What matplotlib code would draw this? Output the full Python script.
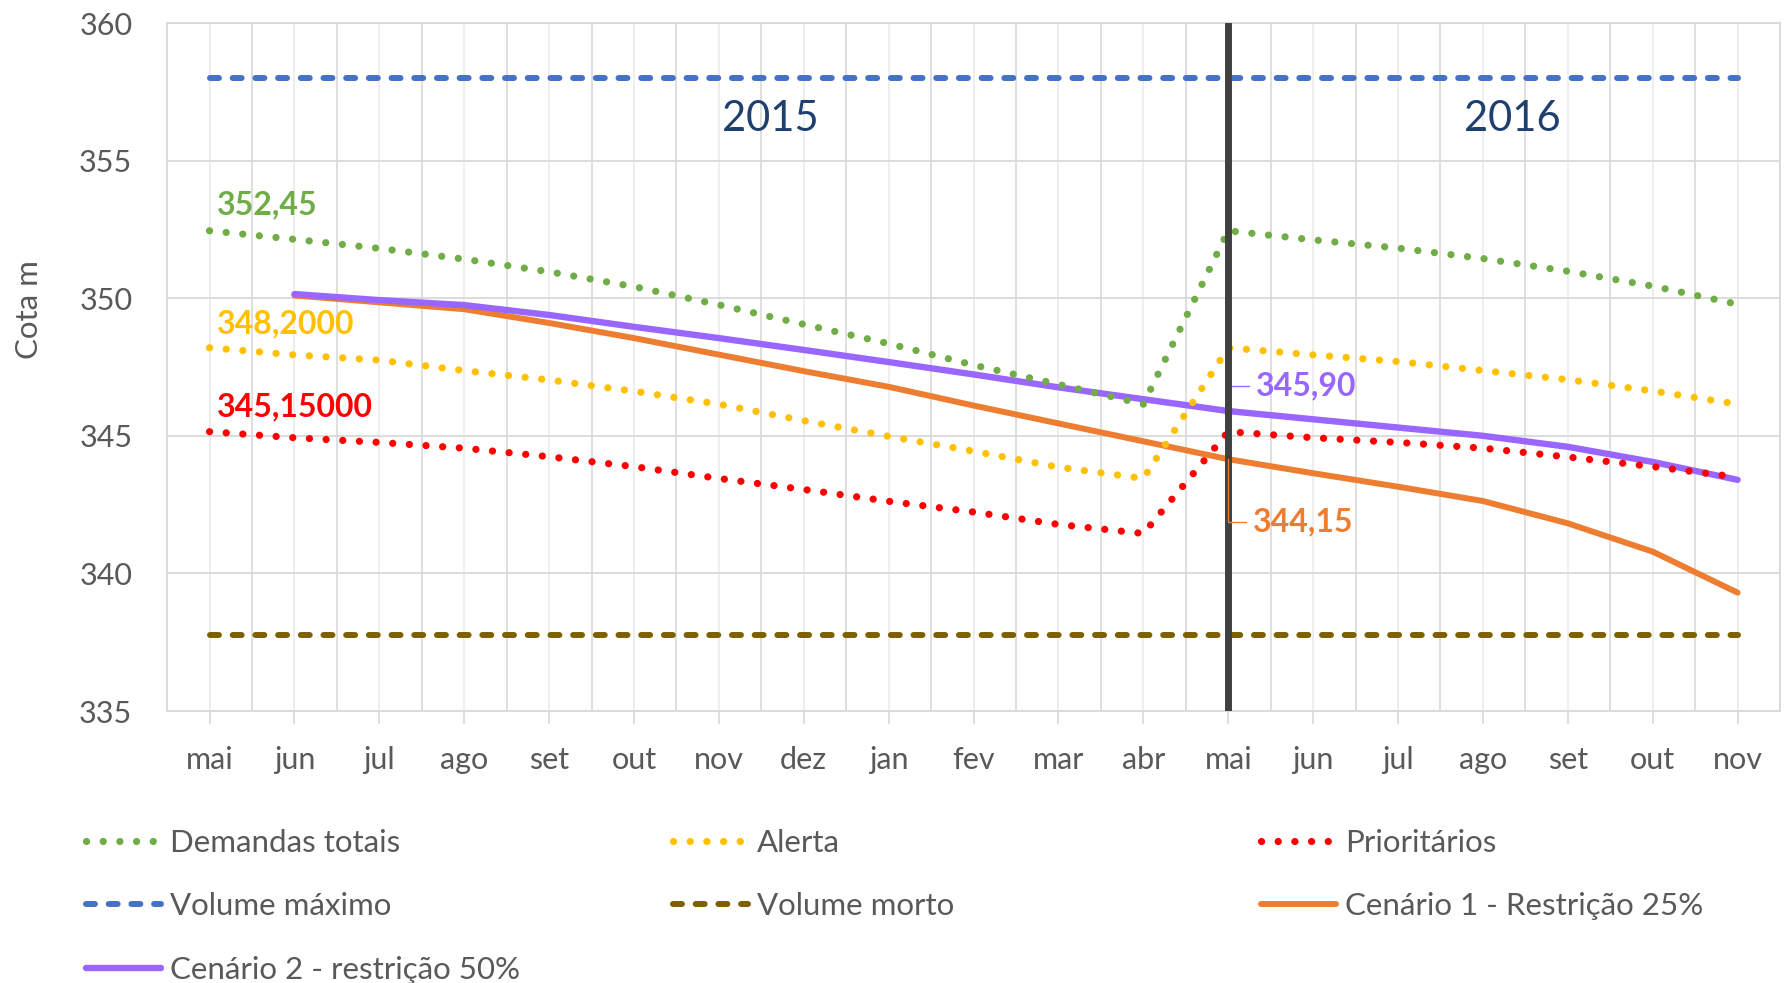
import numpy as np
import matplotlib.pyplot as plt

plt.rcParams['font.family'] = ['Lato', 'DejaVu Sans']

meses = ['mai', 'jun', 'jul', 'ago', 'set', 'out', 'nov', 'dez', 'jan', 'fev',
         'mar', 'abr', 'mai', 'jun', 'jul', 'ago', 'set', 'out', 'nov']

demandas = [352.45, 352.14, 351.81, 351.42, 350.96, 350.42, 349.76, 349.05, 348.35, 347.57,
            346.87, 346.15, 352.45, 352.12, 351.82, 351.44, 350.98, 350.44, 349.78]
alerta = [348.20, 347.94, 347.75, 347.37, 347.03, 346.62, 346.15, 345.55, 344.98, 344.44,
          343.86, 343.45, 348.20, 347.94, 347.70, 347.37, 347.04, 346.63, 346.15]
prioritarios = [345.15, 344.93, 344.76, 344.55, 344.24, 343.88, 343.45, 343.05, 342.62, 342.23,
                341.78, 341.45, 345.15, 344.93, 344.76, 344.55, 344.23, 343.88, 343.50]
vol_max = [358.0] * 19
vol_morto = [337.75] * 19
cenario1 = [np.nan, 350.10, 349.85, 349.60, 349.10, 348.55, 347.95, 347.35, 346.78, 346.10,
            345.45, 344.80, 344.15, 343.64, 343.15, 342.63, 341.82, 340.79, 339.30]
cenario2 = [np.nan, 350.15, 349.93, 349.75, 349.39, 348.96, 348.55, 348.12, 347.68, 347.23,
            346.76, 346.33, 345.90, 345.60, 345.30, 345.00, 344.60, 344.05, 343.40]

divisa = 12  # mai 2016
anos = ['2015', '2016']

x = np.arange(len(meses))

fig = plt.figure(figsize=(17.89, 9.83), dpi=100)
ax = fig.add_axes([0.0934, 0.2767, 0.9016, 0.6999])

dot = (0, (0.01, 2.3))
dash = (0, (1.5, 2.3))
lw = 4.3
lwd = 5.2

l_c1, = ax.plot(x, cenario1, color='#ED7D31', lw=lw, solid_capstyle='round', zorder=3,
                label='Cenário 1 - Restrição 25%')
l_c2, = ax.plot(x, cenario2, color='#9966FF', lw=lw + 0.3, solid_capstyle='round', zorder=3,
                label='Cenário 2 - restrição 50%')
l_max, = ax.plot(x, vol_max, color='#4472C4', lw=lw, ls=dash, dash_capstyle='round', zorder=4,
                 label='Volume máximo')
l_morto, = ax.plot(x, vol_morto, color='#7F6000', lw=lw, ls=dash, dash_capstyle='round', zorder=4,
                   label='Volume morto')
l_dem, = ax.plot(x, demandas, color='#70AD47', lw=lwd, ls=dot, dash_capstyle='round', zorder=4,
                 label='Demandas totais')
l_al, = ax.plot(x, alerta, color='#FFC000', lw=lwd, ls=dot, dash_capstyle='round', zorder=4,
                label='Alerta')
l_pr, = ax.plot(x, prioritarios, color='#FF0000', lw=lwd, ls=dot, dash_capstyle='round', zorder=4,
                label='Prioritários')

ax.axvline(divisa, color='#404040', lw=5, zorder=6)

# axes / grid
ax.set_xlim(-0.5, len(meses) - 0.5)
ax.set_ylim(335, 360)
ax.set_yticks(np.arange(335, 361, 5))
ax.set_xticks(x)
ax.set_xticklabels(meses)
ax.set_xticks(np.arange(-0.5, len(meses), 1), minor=True)
ax.grid(axis='y', color='#D9D9D9', lw=1.3, zorder=0)
ax.grid(axis='x', which='major', color='#EBEBEB', lw=1.2, zorder=0)
ax.grid(axis='x', which='minor', color='#D9D9D9', lw=1.2, zorder=0)
ax.tick_params(axis='x', which='major', length=9, width=1.2, color='#D9D9D9',
               labelsize=22, labelcolor='#595959', pad=16)
ax.tick_params(axis='x', which='minor', length=0)
ax.tick_params(axis='y', length=0, labelsize=22, labelcolor='#595959', pad=25)
for s in ax.spines.values():
    s.set_color('#D9D9D9')
    s.set_linewidth(1.3)

fig.text(29 / 1789, 1 - 310 / 983, 'Cota m', rotation=90, ha='center', va='center',
         fontsize=22.5, color='#595959')

# year labels
ax.text(6.61, 356.5, anos[0], fontsize=30, color='#1F3F6E', ha='center', va='center', zorder=7)
ax.text(15.35, 356.5, anos[1], fontsize=30, color='#1F3F6E', ha='center', va='center', zorder=7)

# data labels
fs = 23
ax.annotate('352,45', (0, demandas[0]), xytext=(5, 19), textcoords='offset points',
            fontsize=fs, fontweight='bold', color='#70AD47', va='center', ha='left', zorder=7)
ax.annotate('348,2000', (0, alerta[0]), xytext=(5, 17.5), textcoords='offset points',
            fontsize=fs, fontweight='bold', color='#FFC000', va='center', ha='left', zorder=7)
ax.annotate('345,15000', (0, prioritarios[0]), xytext=(5, 18), textcoords='offset points',
            fontsize=fs, fontweight='bold', color='#FF0000', va='center', ha='left', zorder=7)
ax.annotate('345,90', (divisa, cenario2[divisa]), xytext=(20, 18), textcoords='offset points',
            fontsize=fs, fontweight='bold', color='#9966FF', va='center', ha='left', zorder=5,
            arrowprops=dict(arrowstyle='-', color='#9966FF', lw=1,
                            connectionstyle='angle,angleA=0,angleB=90,rad=0',
                            relpos=(0, 0.5), shrinkA=3, shrinkB=0))
ax.annotate('344,15', (divisa, cenario1[divisa]), xytext=(18, -45), textcoords='offset points',
            fontsize=fs, fontweight='bold', color='#ED7D31', va='center', ha='left', zorder=7,
            arrowprops=dict(arrowstyle='-', color='#ED7D31', lw=1,
                            connectionstyle='angle,angleA=0,angleB=90,rad=0',
                            relpos=(0, 0.5), shrinkA=3, shrinkB=0))

# legend: three columns, filled row by row
cols = [[l_dem, l_max, l_c2], [l_al, l_morto], [l_pr, l_c1]]
col_x = [86, 673, 1261]
for hs, cx in zip(cols, col_x):
    fig.legend(handles=hs, loc='upper left', bbox_to_anchor=(cx / 1789, 1 - 829 / 983),
               frameon=False, fontsize=22.5, labelcolor='#595959', borderpad=0,
               borderaxespad=0, handlelength=2.4, handletextpad=0.3, labelspacing=1.13)

fig.savefig('out.png', dpi=100)
